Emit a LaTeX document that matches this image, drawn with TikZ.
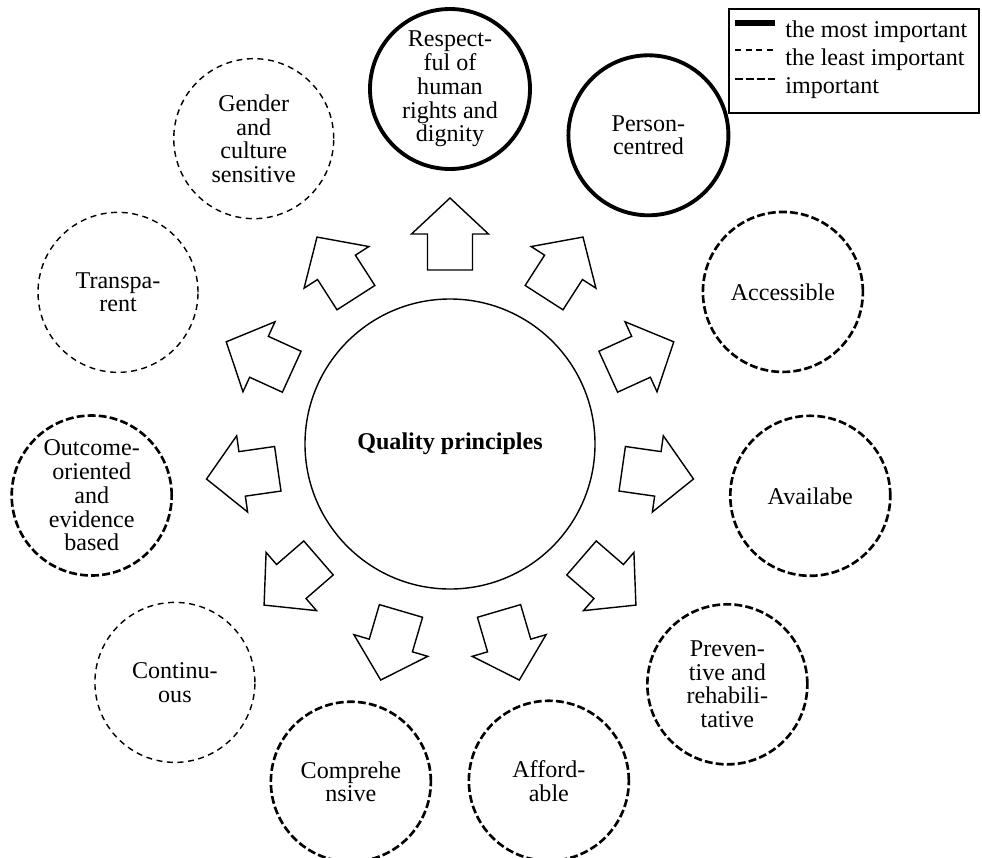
\documentclass[tikz,border=0pt]{standalone}
\usepackage{fontspec}
\setmainfont{Liberation Serif}
\usepackage{tikz}

\begin{document}
\begin{tikzpicture}[
        font=\fontsize{13.7}{13.5}\selectfont,
        principle/.style={circle, minimum size=3.2cm, inner sep=0pt, align=center},
        mostimp/.style={draw, line width=2.2pt},
        leastimp/.style={draw, line width=0.8pt, dash pattern=on 3.4pt off 2.6pt},
        imp/.style={draw, line width=1.5pt, dash pattern=on 4.5pt off 1.8pt},
        blockarrow/.style={draw, line width=0.8pt, line join=miter}
    ]
        % size of the page
        \useasboundingbox (-9.0,-8.26) rectangle (10.64,8.88);

        %define origin, radius of inner circle, distance of the principles
        \coordinate (O) at (0,0);
        \def\r{2.9}
        \def\d{7.24}

        % inner circle
        \node[circle, draw, line width=0.8pt, minimum size=2*\r cm, font=\fontsize{13.7}{13.5}\selectfont\bfseries] (quality) at (O) {Quality principles};

        % block arrows out of the inner circle
        \foreach \k in {0,...,10}{
            \pgfmathsetmacro\a{90-\k*360/11}
            \draw[blockarrow, rotate=\a] (3.48,-0.45) -- (4.2,-0.45) -- (4.2,-0.77) -- (4.92,0)
                -- (4.2,0.77) -- (4.2,0.45) -- (3.48,0.45) -- cycle;
        }

        % the most important
        \node[principle, mostimp] (respect) at (90:7.1) {Respect-\\ful of\\human\\rights and\\dignity};
        \node[principle, mostimp] (person) at (57.27:7.34) {Person-\\centred};

        % important
        \node[principle, imp] (access) at (24.55:7.32) {Accessible};
        \node[principle, imp] (avail) at (-8.18:7.28) {Availabe};
        \node[principle, imp] (prevent) at (-40.91:7.34) {Preven-\\tive and\\rehabili-\\tative};
        \node[principle, imp] (afford) at (-73.64:7.02) {Afford-\\able};
        \node[principle, imp] (compr) at (-106.36:7.04) {Comprehe\\nsive};
        \node[principle, imp] (outcome) at (188.18:\d) {Outcome-\\oriented\\and\\evidence\\based};

        % the least important
        \node[principle, leastimp] (contin) at (-139.09:7.28) {Continu-\\ous};
        \node[principle, leastimp] (transp) at (155.45:7.3) {Transpa-\\rent};
        \node[principle, leastimp] (gender) at (122.73:7.26) {Gender\\and\\culture\\sensitive};

        % legend
        \draw[line width=0.8pt] (5.58,8.70) rectangle (10.58,6.62);
        \draw[line width=3pt] (5.70,8.42) -- (6.50,8.42);
        \draw[leastimp] (5.70,7.88) -- (6.50,7.88);
        \draw[imp, line width=0.8pt] (5.70,7.30) -- (6.50,7.30);
        \node[anchor=base west, inner sep=0pt] (lgmost) at (6.70,8.12) {the most important};
        \node[anchor=base west, inner sep=0pt] (lgleast) at (6.70,7.56) {the least important};
        \node[anchor=base west, inner sep=0pt] (lgimp) at (6.70,7.02) {important};
\end{tikzpicture}
\end{document}
